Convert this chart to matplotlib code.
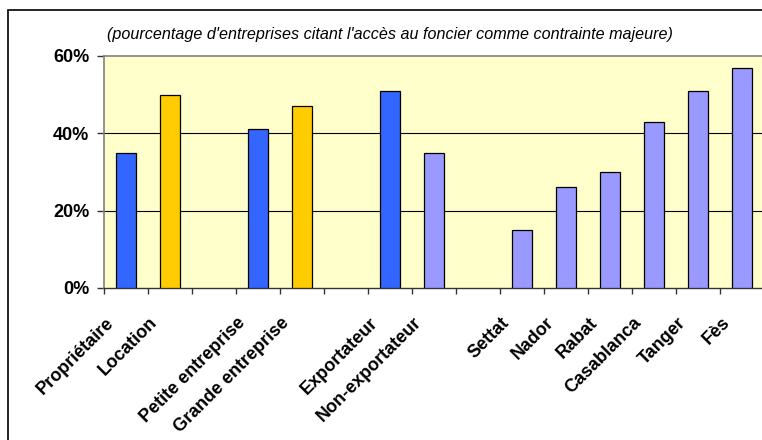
import matplotlib
matplotlib.use("Agg")
import matplotlib.pyplot as plt
from matplotlib.patches import Rectangle
from matplotlib.transforms import ScaledTranslation, blended_transform_factory

plt.rcParams['font.family'] = ['Liberation Sans', 'DejaVu Sans']

# === data ===
groups = [
    ["Propriétaire", "Location"],
    ["Petite entreprise", "Grande entreprise"],
    ["Exportateur", "Non-exportateur"],
    ["Settat", "Nador", "Rabat", "Casablanca", "Tanger", "Fès"],
]
values = [
    [35, 50],
    [41, 47],
    [51, 35],
    [15, 26, 30, 43, 51, 57],
]
BLUE, GOLD, LAV = '#3366FF', '#FFCC00', '#9999FF'
colors = [
    [BLUE, GOLD],
    [BLUE, GOLD],
    [BLUE, LAV],
    [LAV] * 6,
]
yticks = [0, 20, 40, 60]
title = "(pourcentage d'entreprises citant l'accès au foncier comme contrainte majeure)"

# --- slots (one empty slot between groups) ---
xs, labels, vals, cols = [], [], [], []
pos = 0
for g, v, c in zip(groups, values, colors):
    for lab, val, col in zip(g, v, c):
        xs.append(pos + 0.5)
        labels.append(lab)
        vals.append(val)
        cols.append(col)
        pos += 1
    pos += 1
nslots = pos - 1

fig = plt.figure(figsize=(7.62, 4.4), dpi=100)
W, H = 762, 440
ax = fig.add_axes([104 / W, 1 - 288 / H, (44 * nslots) / W, 232 / H])
ax.set_facecolor('#FFFFCC')

ax.bar(xs, vals, width=0.44, color=cols, edgecolor='#000000', linewidth=0.9, zorder=3)

ax.set_xlim(0, nslots)
ax.set_ylim(0, 60)
for y in yticks[1:-1]:
    ax.axhline(y, color='black', lw=0.8, zorder=1)

for s in ['left', 'top', 'right']:
    ax.spines[s].set_color('#808080')
    ax.spines[s].set_linewidth(1.2)
ax.spines['bottom'].set_color('#333333')
ax.spines['bottom'].set_linewidth(1.0)

ax.set_yticks(yticks)
ax.set_yticklabels([f"{t}%" for t in yticks], fontsize=13, fontweight='bold')
ax.tick_params(axis='y', direction='out', length=5, width=1, color='#333333', pad=5.5)

ax.set_xticks(range(nslots + 1))
ax.set_xticklabels([])
ax.tick_params(axis='x', direction='out', length=4, width=1, color='#333333')

# rotated cat labels
tr = blended_transform_factory(ax.transData, ax.transAxes) + \
    ScaledTranslation(-15 / 100, -32 / 100, fig.dpi_scale_trans)
for x, lab in zip(xs, labels):
    ax.text(x, 0, lab, transform=tr, rotation=45, rotation_mode='anchor',
            ha='right', va='center', fontsize=13, fontweight='bold')

fig.text(390 / W, 1 - 35 / H, title, ha='center', va='center',
         style='italic', fontsize=11.6)

# outer chart border
fig.patches.append(Rectangle((8 / W, -0.1), 1.2, 1 - 10 / H + 0.1,
                             transform=fig.transFigure, fill=False,
                             edgecolor='black', linewidth=1.2))

fig.savefig("out.png", dpi=100)
